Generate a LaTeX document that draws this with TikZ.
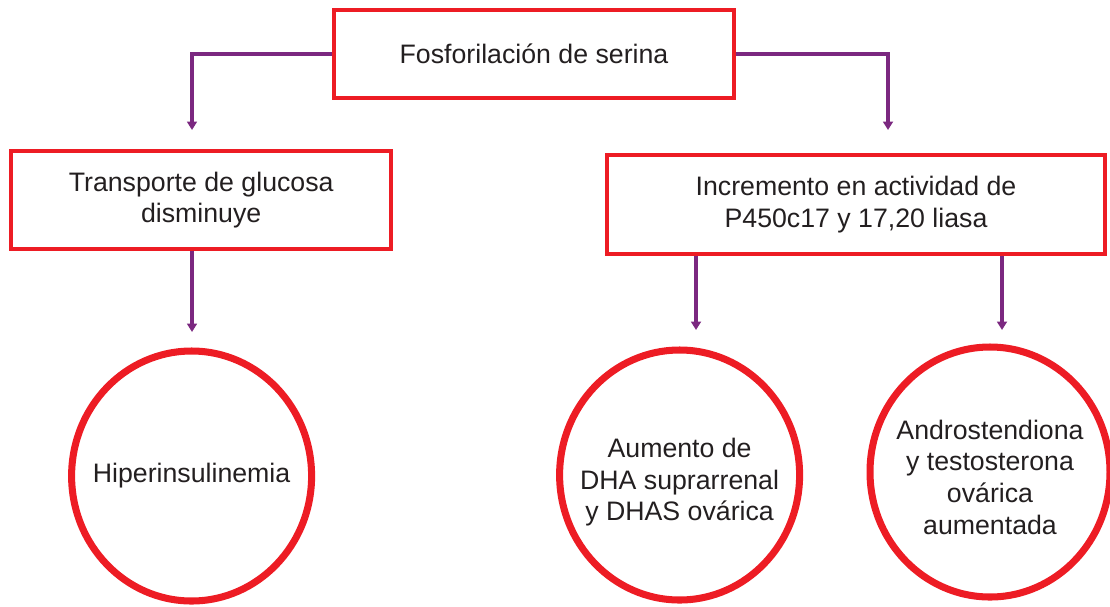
\documentclass[tikz,border=0pt]{standalone}
\usepackage{fontspec}
\setmainfont{Liberation Sans}
\usetikzlibrary{arrows.meta,shapes.geometric}
\definecolor{rojo}{RGB}{237,28,36}
\definecolor{morado}{RGB}{123,40,128}
\definecolor{tinta}{RGB}{35,31,32}

\begin{document}
\begin{tikzpicture}[font=\fontsize{19}{22.5}\selectfont,
caja/.style={rectangle,draw=rojo,line width=2.8pt,text=tinta,align=center},
bola/.style={ellipse,draw=rojo,line width=5pt,inner sep=0pt,
minimum width=6cm,minimum height=6.25cm},
texto/.style={text=tinta,align=center},
flecha/.style={draw=morado,line width=2.4pt,-{Triangle[width=7pt,length=6pt]}}]
\useasboundingbox (0,0) rectangle (27.75,-15.15);
\node[caja](fs) at (13.35,-1.35) [minimum width=10cm,
minimum height=2.2cm] {Fosforilación de serina};
\node[caja](tg) at (5.03,-5.0) [minimum width=9.49cm,
minimum height=2.45cm] {Transporte de glucosa\\disminuye};
\node[caja](ia) at (21.4,-5.11) [minimum width=12.45cm,
minimum height=2.475cm] {Incremento en actividad de\\P450c17 y 17,20 liasa};
\node[bola](hi) at (4.79,-11.9) {};
\node[bola](dh) at (16.99,-11.875) {};
\node[bola](an) at (24.75,-11.8) {};
\node[texto](hit) at (hi) {Hiperinsulinemia};
\node[texto](dht) at ([yshift=-0.18cm]dh.center) {Aumento de\\DHA suprarrenal\\y DHAS ovárica};
\node[texto](ant) at ([yshift=-0.13cm]an.center) {Androstendiona\\y testosterona\\ovárica\\aumentada};
\coordinate (pt1) at (4.8,-3.25);
\coordinate (pt2) at (22.2,-3.25);
\coordinate (pt3) at (4.8,-8.3);
\coordinate (pt4) at (17.4,-8.25);
\coordinate (pt5) at (25.05,-8.25);
\draw[flecha] (fs.west) -| (pt1);
\draw[flecha] (fs.east) -| (pt2);
\draw[flecha] (tg.south -| pt3) -- (pt3);
\draw[flecha] (ia.south -| pt4) -- (pt4);
\draw[flecha] (ia.south -| pt5) -- (pt5);
\end{tikzpicture}
\end{document}
